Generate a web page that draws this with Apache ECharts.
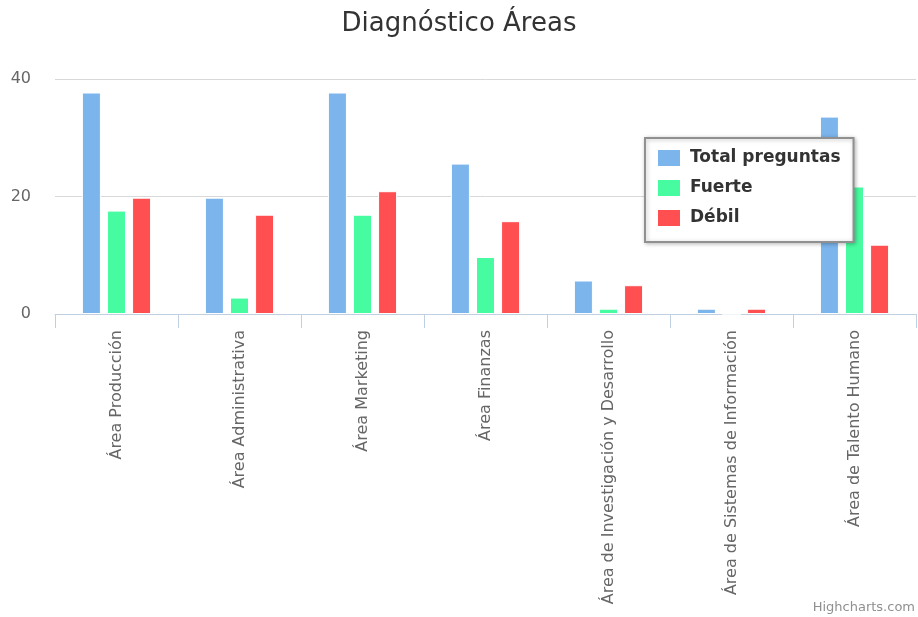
<!DOCTYPE html>
<html>
<head>
<meta charset="utf-8">
<script src="https://cdn.jsdelivr.net/npm/echarts@6/dist/echarts.min.js"></script>
<style>
  html, body { margin: 0; padding: 0; background: #fff; }
  #main { width: 918px; height: 617px; }
</style>
</head>
<body>
<div id="main"></div>
<script>
// datos
var areas = ['Área Producción', 'Área Administrativa', 'Área Marketing', 'Área Finanzas',
    'Área de Investigación y Desarrollo', 'Área de Sistemas de Información', 'Área de Talento Humano'];
var totalPreguntas = [37.7, 19.8, 37.7, 25.6, 5.7, 0.9, 33.6];
var fuerte = [17.6, 2.8, 16.9, 9.7, 0.9, 0, 21.7];
var debil = [19.8, 16.9, 20.9, 15.8, 4.9, 0.9, 11.8];
var yTicks = [0, 20, 40];

var chart = echarts.init(document.getElementById('main'));

function barSerie(name, data) {
    return {
        name: name,
        type: 'bar',
        barWidth: 19,
        barGap: '32%',
        itemStyle: { borderColor: '#fff', borderWidth: 1 },
        data: data
    };
}

var option = {
    animation: false,
    color: ['#7cb5ec', '#47fba0', '#ff4f50'],
    textStyle: { fontFamily: 'DejaVu Sans' },
    title: {
        text: 'Diagnóstico Áreas',
        left: 'center',
        top: 6,
        textStyle: { fontSize: 26, fontWeight: 'normal', color: '#333', fontFamily: 'DejaVu Sans' }
    },
    legend: {
        orient: 'vertical',
        left: 645,
        top: 138,
        padding: [10, 13, 14, 11],
        itemWidth: 24,
        itemHeight: 18,
        itemGap: 10,
        backgroundColor: '#fff',
        borderColor: '#909090',
        borderWidth: 2,
        shadowColor: 'rgba(0,0,0,0.25)',
        shadowBlur: 4,
        shadowOffsetX: 1,
        shadowOffsetY: 1,
        icon: 'rect',
        textStyle: { fontSize: 17, fontWeight: 'bold', color: '#333', fontFamily: 'DejaVu Sans', padding: [0, 0, 0, 4] },
        data: ['Total preguntas', 'Fuerte', 'Débil']
    },
    grid: { left: 55, right: 2, top: 79, bottom: 303 },
    xAxis: {
        type: 'category',
        data: areas,
        axisLine: { show: true, lineStyle: { color: '#c0d0e0', width: 1 } },
        axisTick: { show: true, length: 14, lineStyle: { color: '#c0d0e0', width: 1 } },
        axisLabel: { rotate: 90, margin: 16, interval: 0, fontSize: 16, color: '#666', fontFamily: 'DejaVu Sans' }
    },
    yAxis: {
        type: 'value',
        min: yTicks[0],
        max: yTicks[yTicks.length - 1],
        interval: yTicks[1] - yTicks[0],
        axisLine: { show: false },
        axisTick: { show: false },
        splitLine: { lineStyle: { color: '#d8d8d8' } },
        axisLabel: { margin: 24, fontSize: 16, color: '#666', fontFamily: 'DejaVu Sans' }
    },
    graphic: [{
        type: 'text',
        right: 3,
        bottom: 3,
        style: { text: 'Highcharts.com', fontSize: 13, fill: '#909090', fontFamily: 'DejaVu Sans' }
    }],
    series: [
        barSerie('Total preguntas', totalPreguntas),
        barSerie('Fuerte', fuerte),
        barSerie('Débil', debil)
    ]
};

chart.setOption(option);
</script>
</body>
</html>
